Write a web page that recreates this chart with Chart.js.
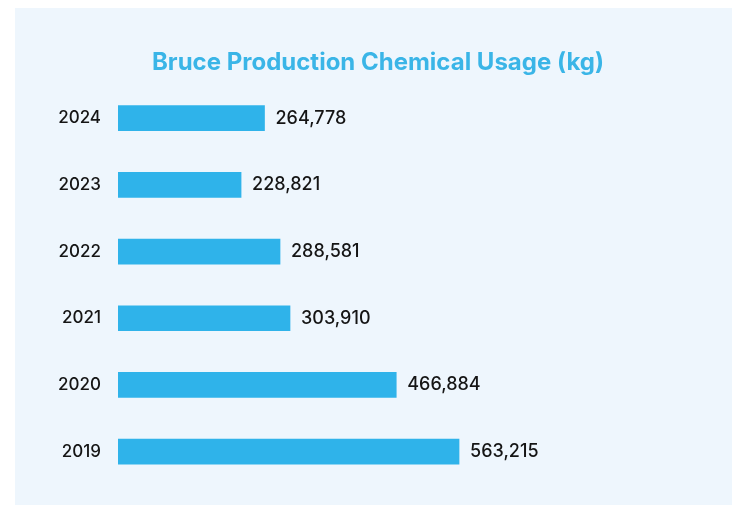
<!DOCTYPE html>
<html>
<head>
<meta charset="utf-8">
<script src="https://cdn.jsdelivr.net/npm/chart.js"></script>
<style>
  html, body { margin: 0; padding: 0; background: #ffffff; }
  #panel {
    position: absolute;
    left: 15px; top: 8px;
    width: 717px; height: 497px;
    background: #eef6fd;
  }
  canvas { display: block; }
</style>
</head>
<body>
<div id="panel"><canvas id="usage-chart" width="717" height="497"></canvas></div>
<script>
// Dados do gráfico
const years = ['2024', '2023', '2022', '2021', '2020', '2019'];
const usageKg = [264778, 228821, 288581, 303910, 466884, 563215];

const barColor = '#2fb3ea';
const titleColor = '#3ab5e7';
const textColor = '#151515';

// Rótulos de valor no fim de cada barra
const valueLabels = {
    id: 'valueLabels',
    afterDatasetsDraw(chart) {
        const ctx = chart.ctx;
        const meta = chart.getDatasetMeta(0);
        ctx.save();
        ctx.font = '500 18px Inter';
        ctx.fillStyle = textColor;
        ctx.textAlign = 'left';
        ctx.textBaseline = 'middle';
        meta.data.forEach(function(bar, i) {
            ctx.fillText(usageKg[i].toLocaleString('en-US'), bar.x + 11, bar.y);
        });
        ctx.restore();
    }
};

new Chart(document.getElementById('usage-chart'), {
    type: 'bar',
    data: {
        labels: years,
        datasets: [{
            data: usageKg,
            backgroundColor: barColor,
            borderWidth: 0,
            barThickness: 25
        }]
    },
    options: {
        indexAxis: 'y',
        responsive: false,
        animation: false,
        layout: {
            padding: { left: 9, right: 0, top: 0, bottom: 20 }
        },
        plugins: {
            legend: { display: false },
            tooltip: { enabled: false },
            title: {
                display: true,
                text: 'Bruce Production Chemical Usage (kg)',
                color: titleColor,
                font: { family: 'Inter', size: 24, weight: 'bold' },
                padding: { top: 40, bottom: 8 }
            }
        },
        scales: {
            x: {
                display: false,
                min: 40000,
                max: 982000
            },
            y: {
                // marcas invisíveis só para afastar os rótulos das barras
                grid: { display: false, drawTicks: true, tickLength: 17 },
                border: { display: false },
                ticks: {
                    color: textColor,
                    padding: 0,
                    font: { family: 'Inter', size: 17, weight: 500 }
                },
                afterFit: function(scale) {
                    scale.width = 94;
                }
            }
        }
    },
    plugins: [valueLabels]
});
</script>
</body>
</html>
